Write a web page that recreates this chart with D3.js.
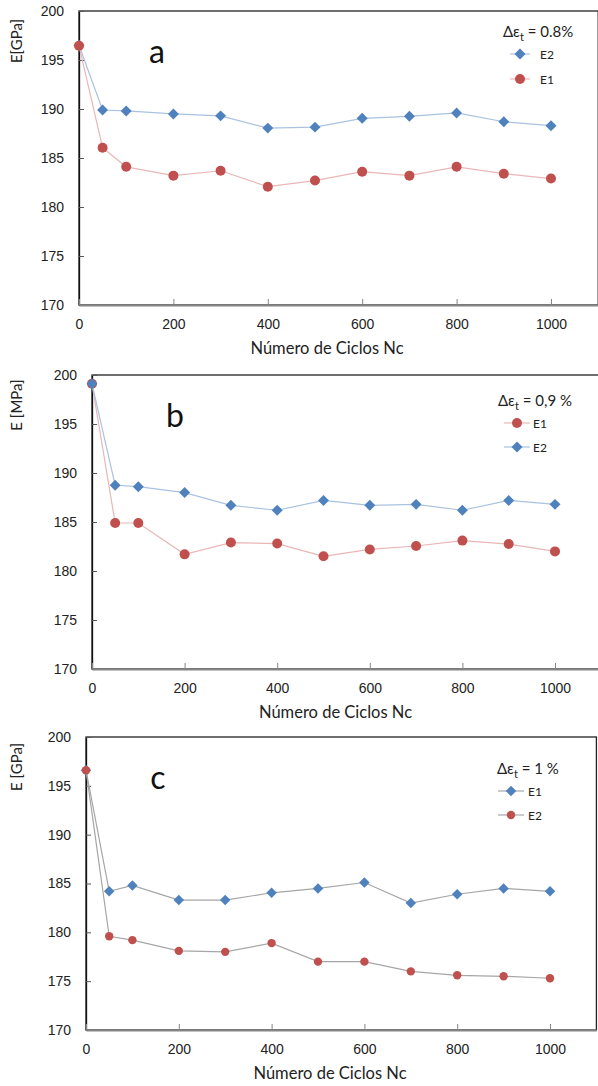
<!DOCTYPE html>
<html>
<head>
<meta charset="utf-8">
<script src="https://cdn.jsdelivr.net/npm/d3@7"></script>
<style>
  body { margin: 0; background: #fff; }
  svg { display: block; font-family: Lato, "Open Sans", sans-serif; }
  .tick text { fill: #222; }
</style>
</head>
<body>
<script>
// cycles on the x axis, shared by all three panels
const cycles = [0, 50, 100, 200, 300, 400, 500, 600, 700, 800, 900, 1000];

// panel a, strain 0.8%
const aE2 = [196.5, 189.9, 189.8, 189.5, 189.3, 188.05, 188.15, 189.05, 189.25, 189.6, 188.7, 188.3];
const aE1 = [196.45, 186.05, 184.1, 183.2, 183.7, 182.07, 182.7, 183.6, 183.2, 184.1, 183.4, 182.9];

// panel b, strain 0.9%
const bE1 = [199.1, 184.9, 184.9, 181.7, 182.9, 182.8, 181.5, 182.2, 182.55, 183.1, 182.75, 182.0];
const bE2 = [199.1, 188.75, 188.6, 188.0, 186.7, 186.2, 187.2, 186.7, 186.8, 186.2, 187.2, 186.8];

// panel c, strain 1%
const cE1 = [196.6, 184.2, 184.8, 183.3, 183.3, 184.05, 184.5, 185.1, 183.0, 183.9, 184.5, 184.2];
const cE2 = [196.6, 179.6, 179.2, 178.1, 178.0, 178.9, 177.0, 177.0, 176.0, 175.6, 175.5, 175.3];

const yTicks = [170, 175, 180, 185, 190, 195, 200];
const xTicks = [0, 200, 400, 600, 800, 1000];

const blue = "#4f81bd", red = "#c0504d";

const svg = d3.select("body").append("svg").attr("width", 598).attr("height", 1086);

const panels = [
  { left: 79, top: 11, bottom: 305, x1000: 551, yTitle: "E[GPa]", letter: "a", letterX: 157,
    strain: " = 0.8%", legX: 503, legLine: [510, 530], legText: 540, leg1: 54, leg2: 79, r: 5, d: 60,
    series: [{ name: "E2", values: aE2, color: blue, shape: "diamond", line: "#a9c2e0" },
             { name: "E1", values: aE1, color: red, shape: "circle", line: "#e8b7b6" }] },
  { left: 92, top: 375, bottom: 669, x1000: 555, yTitle: "E [MPa]", letter: "b", letterX: 175,
    strain: " = 0,9 %", legX: 498, legLine: [504, 530], legText: 533, leg1: 423, leg2: 447, r: 5, d: 60,
    series: [{ name: "E1", values: bE1, color: red, shape: "circle", line: "#e8b7b6" },
             { name: "E2", values: bE2, color: blue, shape: "diamond", line: "#a9c2e0" }] },
  { left: 86, top: 737, bottom: 1030, x1000: 550, yTitle: "E [GPa]", letter: "c", letterX: 158,
    strain: " = 1 %", legX: 497, legLine: [498, 524], legText: 528, leg1: 791, leg2: 815, r: 4.2, d: 55,
    series: [{ name: "E1", values: cE1, color: blue, shape: "diamond", line: "#a6a6a6" },
             { name: "E2", values: cE2, color: red, shape: "circle", line: "#a6a6a6" }] }
];

function marker(g, p, shape, color, cx, cy) {
  if (shape === "diamond") {
    g.append("path")
      .attr("d", d3.symbol().type(d3.symbolSquare).size(p.d)())
      .attr("transform", "translate(" + cx + "," + cy + ") rotate(45)")
      .attr("fill", color);
  } else {
    g.append("circle").attr("cx", cx).attr("cy", cy).attr("r", p.r).attr("fill", color);
  }
}

panels.forEach(function(p) {
  const x = d3.scaleLinear().domain([0, 1100])
    .range([p.left, p.left + (p.x1000 - p.left) * 1.1]);
  const y = d3.scaleLinear().domain([170, 200]).range([p.bottom, p.top]);
  const g = svg.append("g");

  // plot frame
  g.append("rect")
    .attr("x", x(0)).attr("y", y(200))
    .attr("width", x(1100) - x(0)).attr("height", y(170) - y(200))
    .attr("fill", "none").attr("stroke", "#222").attr("stroke-width", 1.3);

  const yAxis = d3.axisLeft(y).tickValues(yTicks).tickSizeInner(-5).tickSizeOuter(0).tickPadding(15);
  const gy = g.append("g").attr("transform", "translate(" + x(0) + ",0)").call(yAxis);
  gy.select(".domain").attr("stroke", "#111").attr("stroke-width", 1.3);
  gy.selectAll(".tick line").attr("stroke", "#555");
  gy.selectAll(".tick text").attr("font-size", 14);

  const xAxis = d3.axisBottom(x).tickValues(xTicks).tickFormat(d3.format("d"))
    .tickSizeInner(-6).tickSizeOuter(0).tickPadding(14);
  const gx = g.append("g").attr("transform", "translate(0," + y(170) + ")").call(xAxis);
  gx.select(".domain").attr("stroke", "#858585").attr("stroke-width", 2);
  gx.selectAll(".tick line").attr("stroke", "#858585");
  gx.selectAll(".tick text").attr("font-size", 14);

  g.append("text").attr("x", (x(0) + x(1000)) / 2 + 12).attr("y", y(170) + 49)
    .attr("text-anchor", "middle").attr("font-size", 16.5).attr("fill", "#222")
    .text("Número de Ciclos Nc");

  g.append("text")
    .attr("transform", "translate(" + 22 + "," + (p.top + 30) + ") rotate(-90)")
    .attr("text-anchor", "middle").attr("font-size", 15).attr("fill", "#222")
    .text(p.yTitle);

  g.append("text").attr("x", p.letterX).attr("y", p.top + 52)
    .attr("text-anchor", "middle").attr("font-size", 32).attr("fill", "#111")
    .text(p.letter);

  // series
  p.series.forEach(function(s) {
    const pts = cycles.map(function(c, i) { return [c, s.values[i]]; });
    g.append("path")
      .attr("d", d3.line().x(function(d) { return x(d[0]); }).y(function(d) { return y(d[1]); })(pts))
      .attr("fill", "none").attr("stroke", s.line).attr("stroke-width", 1.2);
    pts.forEach(function(d) { marker(g, p, s.shape, s.color, x(d[0]), y(d[1])); });
  });

  // legend
  const t = g.append("text").attr("x", p.legX).attr("y", p.leg1 - 17)
    .attr("font-size", 15).attr("fill", "#222");
  t.append("tspan").text("Δε");
  t.append("tspan").attr("dy", 4).attr("font-size", 11).text("t");
  t.append("tspan").attr("dy", -4).text(p.strain);

  [p.leg1, p.leg2].forEach(function(ly, i) {
    const s = p.series[i];
    g.append("line").attr("x1", p.legLine[0]).attr("x2", p.legLine[1])
      .attr("y1", ly).attr("y2", ly).attr("stroke", s.line).attr("stroke-width", 1.2);
    marker(g, p, s.shape, s.color, (p.legLine[0] + p.legLine[1]) / 2, ly);
    g.append("text").attr("x", p.legText).attr("y", ly + 4.5)
      .attr("font-size", 12).attr("fill", "#222").text(s.name);
  });
});
</script>
</body>
</html>
